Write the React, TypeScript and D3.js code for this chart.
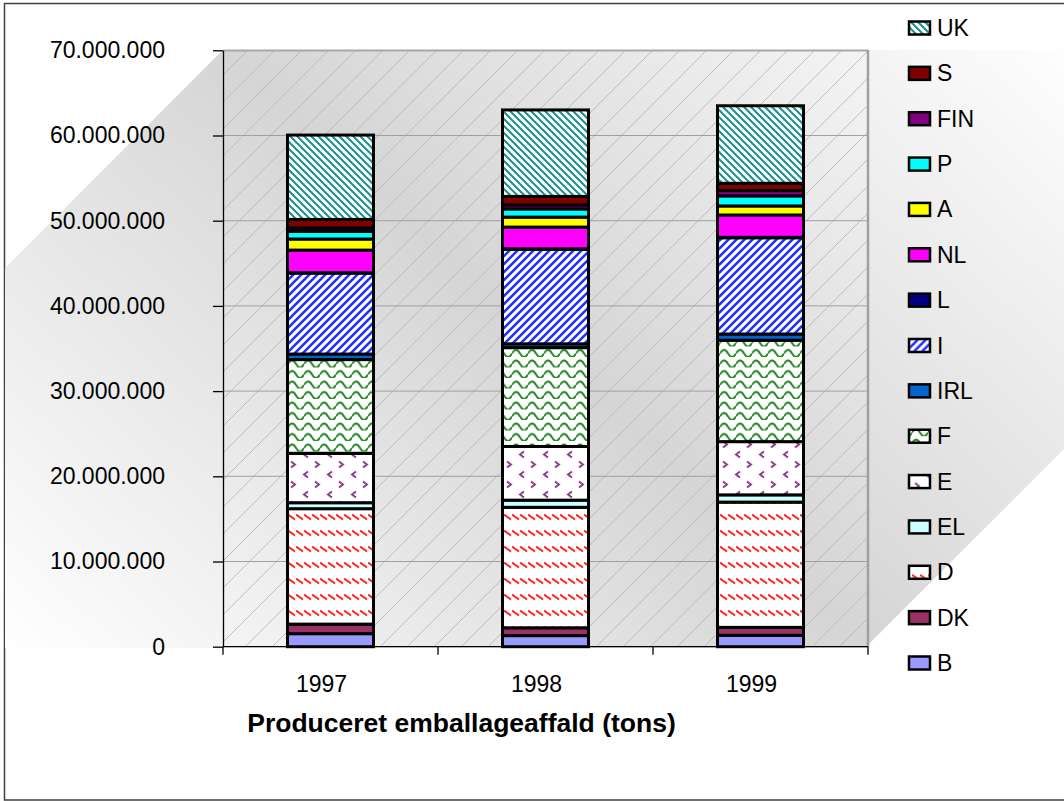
import React, { useEffect, useRef } from "react";
import * as d3 from "d3";

const years = ["1997", "1998", "1999"];
const countries = ["B", "DK", "D", "EL", "E", "F", "IRL", "I", "L", "NL", "A", "P", "FIN", "S", "UK"];

// tons per year: 1997, 1998, 1999
const B = [1530000, 1300000, 1340000];
const DK = [1120000, 920000, 930000];
const D = [13550000, 14140000, 14700000];
const EL = [700000, 840000, 850000];
const E = [5800000, 6300000, 6250000];
const F = [11000000, 11600000, 11900000];
const IRL = [650000, 450000, 730000];
const I = [9500000, 11100000, 11300000];
const L = [50000, 50000, 50000];
const NL = [2650000, 2550000, 2620000];
const A = [1300000, 1170000, 1060000];
const P = [900000, 960000, 1180000];
const FIN = [400000, 470000, 630000];
const S = [1000000, 1000000, 850000];
const UK = [9900000, 10150000, 9100000];

const yTicks = [0, 10000000, 20000000, 30000000, 40000000, 50000000, 60000000, 70000000];

const seriesValues: Record<string, number[]> = { B, DK, D, EL, E, F, IRL, I, L, NL, A, P, FIN, S, UK };

const fills: Record<string, string> = {
  B: "#9999ff",
  DK: "#993366",
  D: "url(#pD)",
  EL: "#ccffff",
  E: "url(#pE)",
  F: "url(#pF)",
  IRL: "#0066cc",
  I: "url(#pI)",
  L: "#000080",
  NL: "#ff00ff",
  A: "#ffff00",
  P: "#00ffff",
  FIN: "#800080",
  S: "#800000",
  UK: "url(#pUK)",
};

const FONT = "'Liberation Sans', Arial, sans-serif";

const StackedChart = () => {
  const svgRef = useRef<SVGSVGElement | null>(null);

  useEffect(() => {
    const svg = d3.select(svgRef.current);
    svg.selectAll("*").remove();

    const left = 223, right = 868, top = 50.3, bottom = 646.7;

    const x = d3.scaleBand<string>().domain(years).range([left, right]).paddingInner(0.6).paddingOuter(0.3);
    const y = d3.scaleLinear().domain([0, 70000000]).range([bottom, top]);

    const table = years.map((yr, i) => {
      const row: any = { year: yr };
      countries.forEach((c) => (row[c] = seriesValues[c][i]));
      return row;
    });
    const stacked = d3.stack<any>().keys(countries)(table);

    const defs = svg.append("defs");

    // diagonal "from center" gradient of the walls
    const ux = 598 / Math.hypot(598, 645), uy = -645 / Math.hypot(598, 645);
    const cx = (left + right) / 2, cy = (top + bottom) / 2, ext = 590;
    const grad = defs.append("linearGradient")
      .attr("id", "bgGrad")
      .attr("gradientUnits", "userSpaceOnUse")
      .attr("x1", cx - ext * ux).attr("y1", cy - ext * uy)
      .attr("x2", cx + ext * ux).attr("y2", cy + ext * uy);
    grad.append("stop").attr("offset", 0).attr("stop-color", "#ffffff");
    grad.append("stop").attr("offset", 0.5).attr("stop-color", "#d5d5d5");
    grad.append("stop").attr("offset", 1).attr("stop-color", "#ffffff");

    const pat = (id: string, w: number, h: number) => {
      const p = defs.append("pattern").attr("id", id)
        .attr("patternUnits", "userSpaceOnUse").attr("width", w).attr("height", h);
      p.append("rect").attr("width", w).attr("height", h).attr("fill", "#fff");
      return p;
    };
    pat("pUK", 7, 7).append("path")
      .attr("d", "M-2,-2L9,9M-2,5L2,9M5,-2L9,2")
      .attr("stroke", "#1a8f8f").attr("stroke-width", 2);
    pat("pI", 8, 8).append("path")
      .attr("d", "M-2,2L2,-2M-2,10L10,-2M6,10L10,6")
      .attr("stroke", "#2030ff").attr("stroke-width", 2.6);
    pat("pF", 16, 10.5).append("path")
      .attr("d", "M0,7Q4,0 8,7T16,7")
      .attr("fill", "none").attr("stroke", "#2a8a2a").attr("stroke-width", 2);
    pat("pE", 24, 20).append("path")
      .attr("d", "M3,1.5L7,4.5L3,7.5M20,11.5L16,14.5L20,17.5")
      .attr("fill", "none").attr("stroke", "#8e3a8e").attr("stroke-width", 2);
    pat("pD", 8, 16).append("path")
      .attr("d", "M0,2.5L7,7.5")
      .attr("stroke", "#ff2020").attr("stroke-width", 2);

    defs.append("clipPath").attr("id", "wallClip")
      .append("rect").attr("x", left).attr("y", top).attr("width", right - left).attr("height", bottom - top);

    // chart border
    svg.append("rect")
      .attr("x", 4.5).attr("y", 3.5).attr("width", 1070).attr("height", 796.5)
      .attr("fill", "#fff").attr("stroke", "#404040").attr("stroke-width", 1.5);

    // walls
    const wall: [number, number][] = [
      [left, 50], [1064, 50], [1064, 449], [right, 645], [right, 648], [5, 648], [5, 268],
    ];
    svg.append("polygon")
      .attr("points", wall.map((p) => p.join(",")).join(" "))
      .attr("fill", "url(#bgGrad)");

    // hatch lines on back wall
    const hatch = svg.append("g").attr("clip-path", "url(#wallClip)");
    for (let c = 1 + 27 * 9; c < right + bottom + 27; c += 27) {
      hatch.append("line")
        .attr("x1", c - bottom).attr("y1", bottom)
        .attr("x2", c - top).attr("y2", top)
        .attr("stroke", "#b2b2b2").attr("stroke-width", 0.8);
    }

    // gridlines
    svg.append("g").selectAll("line")
      .data(yTicks.filter((t) => t > 0 && t < 70000000))
      .join("line")
      .attr("x1", left).attr("x2", right)
      .attr("y1", (d) => y(d)).attr("y2", (d) => y(d))
      .attr("stroke", "#a0a0a0").attr("stroke-width", 1);

    svg.append("line").attr("x1", left).attr("x2", right).attr("y1", 50.5).attr("y2", 50.5)
      .attr("stroke", "#a8a8a8").attr("stroke-width", 2);
    svg.append("line").attr("x1", right).attr("x2", right).attr("y1", 50).attr("y2", 647)
      .attr("stroke", "#a0a0a0").attr("stroke-width", 2.5);

    // y axis
    const fmt = d3.formatLocale({ decimal: ",", thousands: ".", grouping: [3], currency: ["", ""] }).format(",");
    const yAxis = svg.append("g")
      .attr("transform", `translate(${left},0)`)
      .call(d3.axisLeft(y).tickValues(yTicks).tickSize(10).tickSizeOuter(0).tickPadding(48).tickFormat((d) => fmt(d as number)));
    yAxis.select(".domain").attr("stroke", "#000").attr("stroke-width", 1.3);
    yAxis.selectAll(".tick line").attr("stroke", "#000").attr("stroke-width", 1.3);
    yAxis.selectAll("text").attr("font-family", FONT).attr("font-size", 23).attr("fill", "#000");

    // x axis
    svg.append("line").attr("x1", left).attr("x2", right).attr("y1", bottom).attr("y2", bottom)
      .attr("stroke", "#000").attr("stroke-width", 1.3);
    const step = x.step();
    const bounds = [left, ...years.map((yr) => (x(yr) as number) + x.bandwidth() + step * 0.3)];
    svg.append("g").selectAll("line").data(bounds).join("line")
      .attr("x1", (d) => d).attr("x2", (d) => d)
      .attr("y1", bottom).attr("y2", bottom + 8)
      .attr("stroke", "#000").attr("stroke-width", 1.3);
    svg.append("g").selectAll("text").data(years).join("text")
      .attr("x", (d) => (x(d) as number) + x.bandwidth() / 2 - 9)
      .attr("y", 692)
      .attr("text-anchor", "middle")
      .attr("font-family", FONT).attr("font-size", 23)
      .text((d) => d);

    // bars
    svg.append("g").selectAll("g").data(stacked).join("g")
      .attr("fill", (s) => fills[s.key])
      .selectAll("rect").data((s) => s).join("rect")
      .attr("x", (d: any) => x(d.data.year) as number)
      .attr("width", x.bandwidth())
      .attr("y", (d) => y(d[1]))
      .attr("height", (d) => y(d[0]) - y(d[1]))
      .attr("stroke", "#000").attr("stroke-width", 3);

    // title
    svg.append("text")
      .attr("x", 461.5).attr("y", 732)
      .attr("text-anchor", "middle")
      .attr("font-family", FONT).attr("font-size", 26.5).attr("font-weight", "bold")
      .text("Produceret emballageaffald (tons)");

    // legend
    const legendKeys = [...countries].reverse();
    const rowY = d3.scalePoint<string>().domain(legendKeys).range([28, 663]);
    const lg = svg.append("g").selectAll("g").data(legendKeys).join("g")
      .attr("transform", (d) => `translate(0,${rowY(d)})`);
    lg.append("rect")
      .attr("x", 909).attr("y", -6.5).attr("width", 21).attr("height", 13)
      .attr("fill", (d) => fills[d]).attr("stroke", "#000").attr("stroke-width", 2.5);
    lg.append("text")
      .attr("x", 937).attr("y", 8)
      .attr("font-family", FONT).attr("font-size", 23)
      .text((d) => d);
  }, []);

  return (
    <svg
      ref={svgRef}
      width={1064}
      height={801}
      style={{ position: "absolute", left: 0, top: 0, display: "block" }}
    />
  );
};

export default function App() {
  return <StackedChart />;
}
